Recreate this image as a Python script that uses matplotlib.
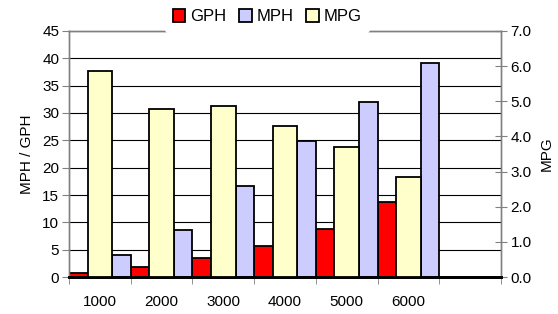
import numpy as np
import matplotlib.pyplot as plt

plt.rcParams['font.family'] = ['Liberation Sans', 'DejaVu Sans']

rpm = ["1000", "2000", "3000", "4000", "5000", "6000"]
gph = [0.7, 1.8, 3.4, 5.7, 8.7, 13.8]
mph = [4.1, 8.6, 16.6, 24.9, 32.0, 39.2]
mpg = [5.86, 4.79, 4.86, 4.30, 3.70, 2.85]

fs = 11
x = np.arange(len(rpm))

fig = plt.figure(figsize=(5.58, 3.14), dpi=100)
ax1 = fig.add_axes([0.1237, 0.1178, 0.7741, 0.7835])
ax2 = ax1.twinx()

# primary axis: GPH at left of each slot, MPH at right
b1 = ax1.bar(x - 0.35, gph, width=0.3, color="#FF0000", edgecolor="black", linewidth=1.3, zorder=3, label="GPH")
b2 = ax1.bar(x + 0.35, mph, width=0.3, color="#CCCCFF", edgecolor="black", linewidth=1.3, zorder=3, label="MPH")
# secondary axis: MPG in the middle
b3 = ax2.bar(x, mpg, width=0.4, color="#FFFFCC", edgecolor="black", linewidth=1.3, zorder=3, label="MPG")

ax1.set_xlim(-0.5, 6.5)
ax1.set_ylim(0, 45)
ax2.set_ylim(0, 7)

ax1.set_yticks(range(0, 50, 5))
ax1.grid(axis="y", color="black", linewidth=0.8, zorder=0)
ax1.set_axisbelow(True)
ax1.yaxis.get_gridlines()[-1].set_color("#808080")

ax2.set_yticks(np.arange(0, 8, 1.0))
ax2.set_yticklabels(["%.1f" % v for v in np.arange(0, 8, 1.0)])

ax1.set_xticks(x)
ax1.set_xticklabels(rpm)
ax1.set_xticks(np.arange(-0.5, 7, 1), minor=True)
ax1.tick_params(axis="x", which="major", length=0, labelsize=fs, pad=13)
ax1.tick_params(axis="x", which="minor", length=5, color="#808080", direction="out")
ax1.tick_params(axis="y", length=5, color="#808080", labelsize=fs, pad=2)
ax2.tick_params(axis="y", length=8, color="#808080", direction="inout", labelsize=fs, pad=3)

for ax in (ax1, ax2):
    for s in ["left", "right", "top"]:
        ax.spines[s].set_color("#808080")
        ax.spines[s].set_linewidth(1)
    ax.spines["bottom"].set_color("black")
    ax.spines["bottom"].set_linewidth(2)

ax1.set_ylabel("MPH / GPH", fontsize=fs, labelpad=6)
ax2.set_ylabel("MPG", fontsize=fs, labelpad=6)

leg = fig.legend(handles=[b1, b2, b3], loc="upper center", bbox_to_anchor=(0.479, 0.997), ncol=3,
                 frameon=True, edgecolor="none", facecolor="white", framealpha=1, fontsize=12,
                 handlelength=0.75, handleheight=0.75, handletextpad=0.3, columnspacing=0.75,
                 borderpad=0.5, borderaxespad=0)

fig.savefig("out.png", dpi=100)
